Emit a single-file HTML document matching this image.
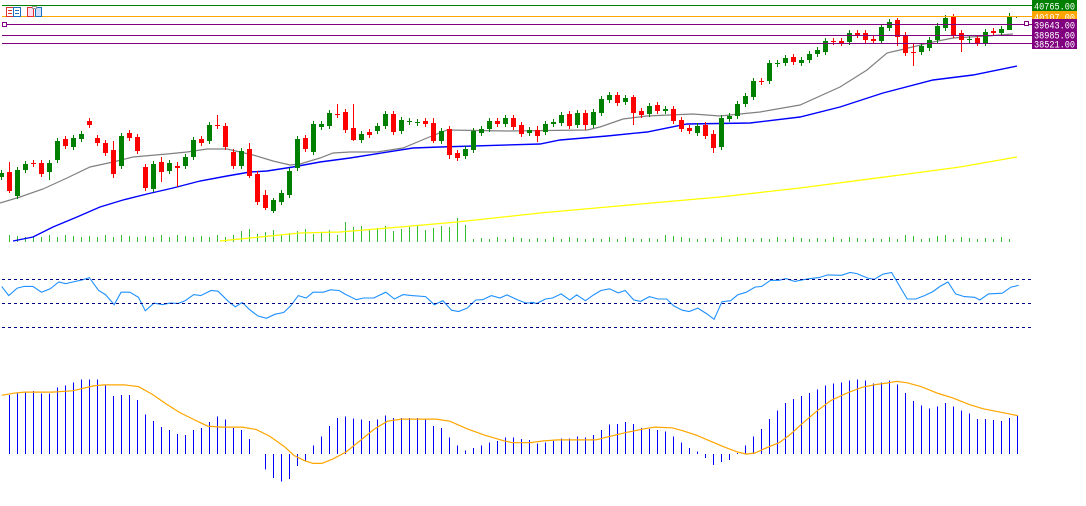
<!DOCTYPE html>
<html><head><meta charset="utf-8"><style>
html,body{margin:0;padding:0;background:#fff;width:1086px;height:506px;overflow:hidden}
svg{display:block}
.lbl{font-family:"Liberation Mono",monospace;font-size:10px;fill:#fff}
</style></head><body>
<svg id="c" width="1086" height="506" xmlns="http://www.w3.org/2000/svg" shape-rendering="crispEdges">
<rect width="1086" height="506" fill="#fff"/>
<g id="g"></g>
<line x1="2" y1="5.5" x2="1032" y2="5.5" stroke="#008000"/>
<line x1="2" y1="16.5" x2="1032" y2="16.5" stroke="#ffa500"/>
<line x1="2" y1="24.5" x2="1032" y2="24.5" stroke="#800080"/>
<line x1="2" y1="35.5" x2="1032" y2="35.5" stroke="#800080"/>
<line x1="2" y1="43.5" x2="1032" y2="43.5" stroke="#800080"/>
<rect x="2.5" y="22.5" width="4" height="4" fill="#fff" stroke="#800080"/>
<rect x="1024.5" y="21.5" width="4" height="4" fill="#fff" stroke="#800080"/>
<rect x="6.5" y="7.5" width="14" height="9" fill="#fff" stroke="#d33"/>
<rect x="13.5" y="7.5" width="7" height="9" fill="#fff" stroke="#1a6fbf"/>
<line x1="8" y1="10.5" x2="12" y2="10.5" stroke="#d33"/><line x1="8" y1="13.5" x2="12" y2="13.5" stroke="#d33"/>
<line x1="15" y1="10.5" x2="19" y2="10.5" stroke="#1a6fbf"/><line x1="15" y1="13.5" x2="19" y2="13.5" stroke="#1a6fbf"/>
<rect x="27.5" y="7.5" width="6" height="9" fill="#fde" stroke="#d33"/>
<rect x="35.5" y="7.5" width="6" height="9" fill="#cdf" stroke="#1a6fbf"/>
<rect x="32.5" y="6.5" width="4" height="2" fill="#fff" stroke="#999"/>
<rect x="1032" y="0" width="45" height="11" fill="#008000"/>
<text class="lbl" x="1034" y="9.5" textLength="41" lengthAdjust="spacingAndGlyphs">40765.00</text>
<rect x="1032" y="11" width="45" height="10" fill="#ffa500"/>
<text class="lbl" x="1034" y="20.5" textLength="41" lengthAdjust="spacingAndGlyphs">40107.00</text>
<rect x="1032" y="19" width="45" height="11" fill="#800080"/>
<text class="lbl" x="1034" y="28.5" textLength="41" lengthAdjust="spacingAndGlyphs">39643.00</text>
<rect x="1032" y="30" width="45" height="10" fill="#800080"/>
<text class="lbl" x="1034" y="38.5" textLength="41" lengthAdjust="spacingAndGlyphs">38985.00</text>
<rect x="1032" y="39" width="45" height="10" fill="#800080"/>
<text class="lbl" x="1034" y="47.5" textLength="41" lengthAdjust="spacingAndGlyphs">38521.00</text>
<line x1="2" y1="279.5" x2="1032" y2="279.5" stroke="#000080" stroke-dasharray="3,3"/>
<line x1="2" y1="303.5" x2="1032" y2="303.5" stroke="#000080" stroke-dasharray="3,3"/>
<line x1="2" y1="327.5" x2="1032" y2="327.5" stroke="#000080" stroke-dasharray="3,3"/>
</svg>
<script>
var g=document.getElementById('g'),s='';
function X(i){return 1+8*i;}
var C=[[173,177,'g'],[172,191,'r'],[170,196,'g'],[164,170,'g'],[163,164,'r'],[163,174,'r'],[163,172,'g'],[141,160,'g'],[139,146,'r'],[138,147,'g'],
[134,139,'g'],[121,125,'r'],[138,143,'r'],[143,153,'r'],[150,174,'r'],[136,166,'g'],[133,138,'r'],[137,151,'r'],[167,188,'r'],[164,189,'g'],
[162,172,'r'],[163,171,'g'],[166,168,'r'],[157,166,'g'],[140,157,'g'],[139,143,'r'],[125,141,'g'],[125,126,'r'],[126,147,'r'],[152,166,'r'],
[151,166,'g'],[149,176,'r'],[174,202,'r'],[195,208,'r'],[200,211,'g'],[193,202,'g'],[171,195,'g'],[139,168,'g'],[138,149,'r'],[124,152,'g'],
[124,127,'g'],[113,126,'g'],[114,115,'r'],[112,130,'r'],[128,140,'r'],[134,140,'g'],[132,135,'r'],[126,131,'g'],[114,126,'g'],[114,132,'r'],
[120,131,'g'],[121,122,'g'],[122,123,'g'],[121,124,'r'],[123,141,'r'],[131,141,'g'],[129,155,'r'],[153,158,'r'],[149,156,'g'],[131,150,'g'],
[129,133,'g'],[121,129,'g'],[121,124,'r'],[118,124,'g'],[118,127,'r'],[125,134,'r'],[130,133,'g'],[130,136,'r'],[124,132,'g'],[122,124,'g'],
[115,123,'g'],[114,126,'r'],[113,125,'g'],[113,125,'r'],[112,125,'g'],[99,113,'g'],[95,100,'g'],[95,103,'r'],[98,102,'g'],[97,113,'r'],
[111,115,'r'],[106,114,'g'],[105,111,'r'],[109,111,'g'],[109,121,'r'],[120,129,'r'],[128,131,'r'],[126,133,'g'],[125,136,'r'],[134,148,'r'],
[118,147,'g'],[116,119,'g'],[104,116,'g'],[96,104,'g'],[81,97,'g'],[81,82,'r'],[63,81,'g'],[63,64,'g'],[58,63,'g'],[57,62,'r'],
[60,63,'g'],[54,60,'g'],[50,54,'g'],[41,52,'g'],[41,42,'r'],[41,43,'r'],[33,42,'g'],[33,35,'r'],[33,40,'r'],[39,41,'r'],
[27,41,'g'],[22,28,'g'],[20,37,'r'],[35,53,'r'],[52,53,'r'],[46,52,'g'],[40,48,'g'],[26,40,'g'],[18,28,'g'],[17,35,'r'],
[33,40,'r'],[39,40,'g'],[38,43,'r'],[32,43,'g'],[31,33,'r'],[29,33,'g'],[17,30,'g']];
var W={1:[162,193],6:[160,180],14:[141,178],20:[157,182],22:[162,187],27:[115,129],31:[143,178],33:[190,210],34:[198,213],42:[104,118],44:[104,141],54:[118,143],56:[126,159],67:[126,142],73:[110,130],79:[95,125],89:[130,153],112:[18,46],114:[43,66],120:[30,52],126:[13,30]};
var vh=[];
for(var i=0;i<=126;i++){var x=X(i),h;var r=((i*37)%7);
 if(x<240)h=5+r%3; else if(x<345)h=7+r; else if(x<470)h=11+r; else h=3+(r%3);
 vh.push(h);}
vh[43]=20;vh[45]=16;vh[57]=24;vh[56]=15;vh[58]=17;vh[84]=6;vh[83]=7;vh[113]=7;vh[114]=6;vh[117]=6;vh[118]=7;
for(var i=1;i<=126;i++){var x=X(i)+0.5;s+='<line x1="'+x+'" y1="242" x2="'+x+'" y2="'+(242-vh[i])+'" stroke="#33bb33"/>';}
function pl(pts,col,w){var d=pts.map(function(p){return p[0]+','+p[1]}).join(' ');return '<polyline points="'+d+'" fill="none" stroke="'+col+'" stroke-width="'+(w||1)+'" shape-rendering="auto"/>';}
s+=pl([[220,241],[260,237],[300,233],[340,232],[400,227],[457,222],[540,213],[607,207],[720,197],[800,188],[900,175],[960,167],[1017,157]],'#ffff00',1.3);
s+=pl([[13,241],[33,237],[53,227],[77,217],[100,207],[123,200],[147,194],[173,188],[200,181],[227,176],[250,172],[267,171],[293,167],[320,162],[350,158],[413,148],[440,147],[540,144],[560,140],[607,136],[647,132],[687,124],[750,123],[800,117],[840,107],[883,93],[933,80],[973,75],[1017,66]],'#0000ff',1.4);
s+=pl([[0,203],[20,197],[43,189],[67,178],[90,167],[113,162],[133,157],[167,154],[187,152],[207,149],[227,149],[253,155],[273,161],[290,165],[300,164],[320,158],[333,153],[350,152],[377,152],[403,148],[427,138],[447,130],[507,131],[587,130],[600,127],[623,119],[647,116],[693,114],[720,116],[740,114],[760,112],[800,105],[840,87],[867,70],[887,53],[900,50],[933,42],[953,38],[987,36],[1013,34]],'#808080',1.2);
for(var i=0;i<C.length;i++){var c=C[i],x=X(i),col=c[2]=='g'?'#008000':'#ff0000';
 var hi=c[0]-3,lo=c[1]+3;if(W[i]){hi=W[i][0];lo=W[i][1];}
 s+='<line x1="'+(x+0.5)+'" y1="'+hi+'" x2="'+(x+0.5)+'" y2="'+lo+'" stroke="'+col+'"/>';
 var h=Math.max(1,c[1]-c[0]);s+='<rect x="'+(x-2)+'" y="'+c[0]+'" width="5" height="'+h+'" fill="'+col+'"/>';}
s+='<rect x="1016" y="17" width="1" height="1" fill="#008000"/>';
var r6=[[5,78],[25,105],[50,83],[70,78],[95,78],[120,95],[145,85],[170,65],[190,70],[210,65],[240,58],[258,52],[285,90],[305,102],[330,132],[350,95],[375,95],[400,110],[420,150],[445,127],[470,132],[490,127],[515,128],[535,120],[560,102],[580,105],[610,90],[630,92],[660,122],[680,138],[700,125],[720,145],[745,165],[770,172],[795,160],[820,155],[840,135],[862,105],[885,112],[905,95],[935,95],[955,88],[980,90],[1000,102],[1030,117],[1050,112],[1080,112],[1115,95],[1140,115],[1165,102],[1190,105],[1230,108],[1255,132],[1280,120],[1305,148],[1325,152],[1350,142],[1375,118],[1395,117],[1420,105],[1445,112],[1465,103],[1495,117],[1520,127],[1545,125]];
var r7=[[0,125],[20,128],[45,115],[65,112],[90,100],[115,118],[135,103],[160,120],[185,102],[205,90],[230,85],[255,97],[275,90],[300,118],[320,122],[345,108],[370,115],[395,115],[415,135],[440,148],[460,152],[485,142],[510,158],[532,175],[555,123],[580,120],[600,103],[625,95],[650,80],[670,78],[695,60],[720,60],[740,55],[765,63],[790,58],[810,55],[835,52],[860,44],[900,45],[925,37],[945,40],[975,53],[995,57],[1020,42],[1045,37],[1090,115],[1115,115],[1140,105],[1165,93],[1185,78],[1208,65],[1230,100],[1255,108],[1285,110],[1300,118],[1325,100],[1365,98],[1390,80],[1412,75]];
var rp=r6.map(function(p){return [(p[0]/2.89).toFixed(1),(260+p[1]/2.95).toFixed(1)]}).concat(r7.map(function(p){return [(530+p[0]/2.89).toFixed(1),(260+p[1]/2.95).toFixed(1)]}));
s+=pl(rp,'#1e90ff',1.1);
var mb={1:72,2:68,3:65,4:60,5:68,6:68,7:50,8:45,9:36,10:27,11:27,12:27,13:45,14:75,15:72,16:72,17:87,18:128,19:147,20:165,21:174,22:185,23:188,24:174,25:168,26:150,27:135,28:143,29:168,30:174,31:200,32:243,33:288,34:312,35:322,36:315,37:278,38:262,39:218,40:192,41:162,42:138,43:135,44:140,45:143,46:147,47:143,48:132,49:138,50:138,51:138,52:138,53:143,54:162,55:168,56:195,57:218,58:232,59:225,60:218,61:210,62:205,63:195,64:195,65:200,66:203,67:212,
68:210,69:205,70:198,71:198,72:192,73:195,74:188,75:174,76:158,77:156,78:150,79:156,80:168,81:170,82:174,83:178,84:192,85:210,86:225,87:235,88:255,89:275,90:266,91:260,92:240,93:218,94:192,95:171,96:141,97:117,98:96,99:84,100:75,101:66,102:57,103:45,104:39,105:36,106:30,107:27,108:30,109:39,110:36,111:30,112:42,113:66,114:90,115:102,116:111,117:105,118:96,119:105,120:117,121:126,122:141,123:141,124:144,125:147,126:138,127:132};
var z=454;
for(var k in mb){var x=X(+k)+0.5,y=(370+mb[k]/2.89).toFixed(1);s+='<line x1="'+x+'" y1="'+z+'" x2="'+x+'" y2="'+y+'" stroke="#0000ff" stroke-width="1.3"/>';}
var o8=[[5,73],[40,67],[70,64],[150,64],[210,60],[270,46],[300,43],[360,43],[400,48],[440,70],[480,98],[520,123],[560,143],[600,162],[640,165],[700,165],[740,172],[780,192],[820,220],[850,247],[880,262],[905,270],[930,270],[960,258],[1000,237],[1040,205],[1080,172],[1120,148],[1160,142],[1260,142],[1300,148],[1350,170],[1400,188],[1450,203],[1480,210],[1540,210]];
var o9=[[0,210],[40,205],[80,202],[190,202],[230,192],[280,180],[330,170],[360,165],[410,167],[440,175],[480,188],[520,205],[560,222],[600,237],[625,243],[650,240],[690,222],[720,210],[750,188],[790,152],[830,118],[870,88],[920,65],[960,50],[1000,42],[1030,38],[1060,33],[1090,37],[1130,48],[1180,68],[1220,80],[1270,100],[1310,112],[1360,122],[1410,132]];
var op=o8.map(function(p){return [(p[0]/2.89).toFixed(1),(370+p[1]/2.89).toFixed(1)]}).concat(o9.map(function(p){return [(530+p[0]/2.89).toFixed(1),(370+p[1]/2.89).toFixed(1)]}));
s+=pl(op,'#ffa500',1.2);
g.innerHTML=s;
</script>
</body></html>
